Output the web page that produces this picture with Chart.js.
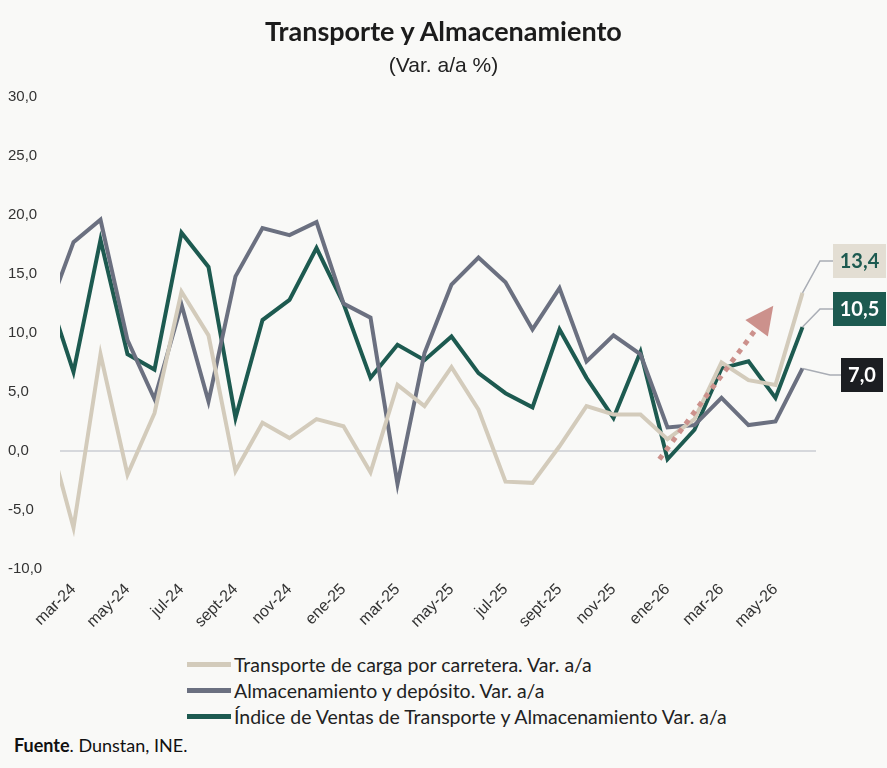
<!DOCTYPE html>
<html>
<head>
<meta charset="utf-8">
<script src="https://cdn.jsdelivr.net/npm/chart.js@4"></script>
<style>
  body { margin: 0; background: #f9f9f7; font-family: Lato, sans-serif; }
  #wrap { position: relative; width: 887px; height: 768px; }
  #title { position: absolute; top: 14px; width: 887px; text-align: center; font: bold 27px Lato, sans-serif; color: #1c1c1c; }
  #sub { position: absolute; top: 53px; width: 887px; text-align: center; font: 21px 'Liberation Sans', sans-serif; color: #222; }
  #chart { position: absolute; top: 0; left: 0; }
  #legend { position: absolute; top: 651px; left: 187px; font: 19.5px Lato, sans-serif; color: #222; }
  .item { height: 26px; display: flex; align-items: center; }
  .sw { width: 44px; height: 5px; margin-right: 3px; }
  #src { position: absolute; top: 734px; left: 14px; font: 18px Lato, sans-serif; color: #111; }
</style>
</head>
<body>
<div id="wrap">
  <canvas id="chart" width="887" height="642"></canvas>
  <div id="title">Transporte y Almacenamiento</div>
  <div id="sub">(Var. a/a %)</div>
  <div id="legend"></div>
  <div id="src"><b>Fuente</b>. Dunstan, INE.</div>
</div>
<script>
// Months: feb-24 (partially hidden at the left edge) through jun-26
const months = ['feb-24','mar-24','abr-24','may-24','jun-24','jul-24','ago-24','sept-24','oct-24','nov-24','dic-24',
  'ene-25','feb-25','mar-25','abr-25','may-25','jun-25','jul-25','ago-25','sept-25','oct-25','nov-25','dic-25',
  'ene-26','feb-26','mar-26','abr-26','may-26','jun-26'];

const carretera = [2.0, -6.5, 8.2, -2.0, 3.2, 13.5, 9.8, -1.7, 2.4, 1.1, 2.7, 2.1, -1.8, 5.6, 3.8, 7.1, 3.5, -2.6, -2.7, 0.4, 3.8, 3.1, 3.1, 1.0, 2.7, 7.5, 6.0, 5.6, 13.4];
const almacen = [11.5, 17.7, 19.6, 9.4, 4.4, 12.4, 4.2, 14.8, 18.9, 18.3, 19.4, 12.5, 11.3, -2.8, 8.3, 14.1, 16.4, 14.3, 10.3, 13.8, 7.6, 9.8, 8.2, 2.0, 2.2, 4.5, 2.2, 2.5, 7.0];
const indice = [13.7, 6.7, 17.9, 8.2, 6.9, 18.5, 15.6, 2.8, 11.1, 12.8, 17.2, 12.5, 6.2, 9.0, 7.7, 9.7, 6.6, 4.9, 3.7, 10.3, 6.2, 2.8, 8.4, -0.7, 1.8, 7.0, 7.6, 4.5, 10.5];

const seriesNames = ['Transporte de carga por carretera. Var. a/a', 'Almacenamiento y depósito. Var. a/a', 'Índice de Ventas de Transporte y Almacenamiento Var. a/a'];
const seriesColors = ['#d3cbbb', '#6b7080', '#1d5a50'];
const tickMonths = ['mar-24','may-24','jul-24','sept-24','nov-24','ene-25','mar-25','may-25','jul-25','sept-25','nov-25','ene-26','mar-26','may-26'];

const toPoints = arr => arr.map((v, i) => ({ x: i, y: v }));
const fmt = v => v.toFixed(1).replace('.', ',');

// Callout boxes at the right end + trend arrow
const extras = {
  id: 'extras',
  afterDatasetsDraw(chart) {
    const { ctx, scales: { x, y } } = chart;
    const last = months.length - 1;
    const boxes = [
      { v: carretera[last], by: 261, kx: 820, bx: 833, bw: 53, bg: '#e3ded3', fg: '#1d5a50' },
      { v: indice[last], by: 309, kx: 820, bx: 833, bw: 53, bg: '#1d5a50', fg: '#ffffff' },
      { v: almacen[last], by: 375, kx: 830, bx: 841, bw: 42, bg: '#1c1e22', fg: '#ffffff' }
    ];
    ctx.save();
    boxes.forEach(b => {
      const px = x.getPixelForValue(last), py = y.getPixelForValue(b.v);
      ctx.strokeStyle = '#a9adb5'; ctx.lineWidth = 1.5;
      ctx.beginPath(); ctx.moveTo(px, py); ctx.lineTo(b.kx, b.by); ctx.lineTo(b.bx, b.by); ctx.stroke();
      ctx.fillStyle = b.bg; ctx.fillRect(b.bx, b.by - 17, b.bw, 34);
      ctx.fillStyle = b.fg; ctx.font = 'bold 20px Lato, sans-serif';
      ctx.textAlign = 'center'; ctx.textBaseline = 'middle';
      ctx.fillText(fmt(b.v), b.bx + b.bw / 2, b.by + 1);
    });
    // dotted trend arrow
    const x0 = x.getPixelForValue(22.7), y0 = y.getPixelForValue(-0.7);
    const x1 = x.getPixelForValue(26.3), y1 = y.getPixelForValue(10.4);
    ctx.strokeStyle = '#cc918c'; ctx.lineWidth = 5; ctx.setLineDash([5, 6]);
    ctx.beginPath(); ctx.moveTo(x0, y0); ctx.lineTo(x1, y1); ctx.stroke();
    ctx.setLineDash([]);
    const ang = Math.atan2(y1 - y0, x1 - x0);
    const tx = x1 + Math.cos(ang) * 28, ty = y1 + Math.sin(ang) * 28;
    ctx.fillStyle = '#cc918c';
    ctx.beginPath();
    ctx.moveTo(tx, ty);
    ctx.lineTo(x1 + Math.cos(ang + Math.PI / 2) * 14, y1 + Math.sin(ang + Math.PI / 2) * 14);
    ctx.lineTo(x1 + Math.cos(ang - Math.PI / 2) * 14, y1 + Math.sin(ang - Math.PI / 2) * 14);
    ctx.closePath(); ctx.fill();
    ctx.restore();
  }
};

new Chart(document.getElementById('chart'), {
  type: 'line',
  data: {
    datasets: [
      { label: seriesNames[0], data: toPoints(carretera), borderColor: seriesColors[0] },
      { label: seriesNames[1], data: toPoints(almacen), borderColor: seriesColors[1] },
      { label: seriesNames[2], data: toPoints(indice), borderColor: seriesColors[2] }
    ].map(d => Object.assign(d, { borderWidth: 4, pointRadius: 0, tension: 0, fill: false, borderJoinStyle: 'miter' }))
  },
  options: {
    responsive: false,
    animation: false,
    layout: { padding: { left: 8, right: 71, top: 97, bottom: 0 } },
    plugins: { legend: { display: false }, tooltip: { enabled: false } },
    scales: {
      x: {
        type: 'linear', min: 0.5, max: 28.5,
        afterBuildTicks: s => { s.ticks = tickMonths.map(m => ({ value: months.indexOf(m) })); },
        afterFit: s => { s.height = 73; },
        grid: { display: false }, border: { display: false },
        ticks: { autoSkip: false, maxRotation: 45, minRotation: 45, color: '#333',
          font: { family: 'Liberation Sans', size: 16 },
          callback: v => months[v] }
      },
      y: {
        min: -10, max: 30,
        afterFit: s => { s.width = 52; },
        border: { display: false },
        grid: { drawTicks: false, color: ctx => ctx.tick.value === 0 ? '#d6d8dc' : 'transparent', lineWidth: 2 },
        ticks: { stepSize: 5, color: '#333', padding: 10, crossAlign: 'far',
          font: { family: 'Liberation Sans', size: 15 }, callback: v => fmt(v) }
      }
    }
  },
  plugins: [extras]
});

const lg = document.getElementById('legend');
seriesNames.forEach((n, i) => {
  lg.innerHTML += '<div class="item"><span class="sw" style="background:' + seriesColors[i] + '"></span>' + n + '</div>';
});
</script>
</body>
</html>
